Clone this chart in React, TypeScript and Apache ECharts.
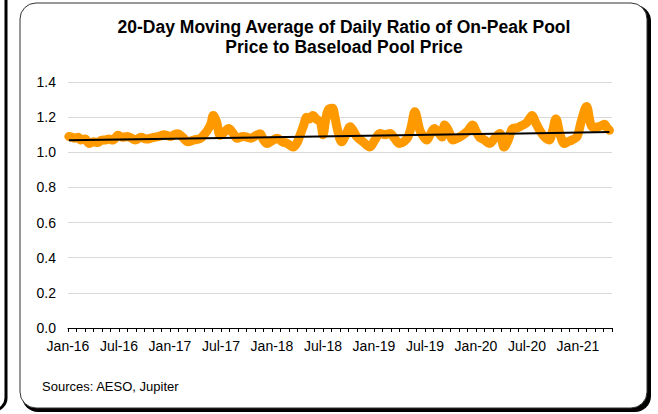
import React, { useEffect, useRef } from "react";
import * as echarts from "echarts";

// Months since Jan-2016 (fractional) and the 20-day moving average ratio
const monthOffsets = [
  0.1, 0.5, 0.8, 1.2, 1.5, 2.0, 2.5, 3.0, 3.5, 3.9, 4.4, 4.8, 5.3, 5.9, 6.4, 7.0,
  7.5, 7.9, 8.6, 9.2, 10.1, 10.7, 11.3, 11.7, 12.1, 12.5, 12.9, 13.5, 14.1, 14.8,
  15.6, 16.0, 16.4, 16.8, 17.1, 17.5, 17.9, 18.4, 18.9, 19.4, 19.9, 20.6, 21.5,
  22.1, 22.6, 23.0, 23.4, 24.0, 24.6, 25.2, 25.8, 26.5, 26.9, 27.3, 27.7, 28.1,
  28.4, 28.8, 29.2, 29.7, 30.0, 30.3, 30.6, 31.1, 31.4, 31.7, 32.2, 32.7, 33.2,
  33.6, 34.0, 34.7, 35.5, 36.1, 36.7, 37.3, 37.9, 38.4, 39.0, 39.5, 40.0, 40.4,
  40.8, 41.4, 41.8, 42.2, 42.6, 43.1, 43.6, 44.0, 44.3, 44.8, 45.3, 45.8, 46.4,
  47.0, 47.6, 48.0, 48.4, 49.0, 49.6, 50.2, 50.8, 51.3, 51.8, 52.3, 52.9, 53.5,
  54.0, 54.6, 55.0, 55.5, 56.0, 56.6, 57.0, 57.4, 57.9, 58.4, 58.8, 59.3, 59.9,
  60.4, 61.0, 61.5, 61.9, 62.3, 62.7, 63.1, 63.4, 63.7,
];
const ratioValues = [
  1.09, 1.085, 1.08, 1.085, 1.07, 1.075, 1.05, 1.06, 1.055, 1.068, 1.07, 1.075,
  1.07, 1.097, 1.085, 1.09, 1.08, 1.07, 1.085, 1.075, 1.085, 1.09, 1.1, 1.095,
  1.09, 1.1, 1.105, 1.085, 1.06, 1.07, 1.08, 1.1, 1.125, 1.16, 1.21, 1.17, 1.097,
  1.115, 1.135, 1.11, 1.08, 1.09, 1.08, 1.095, 1.105, 1.07, 1.05, 1.065, 1.08,
  1.06, 1.05, 1.03, 1.05, 1.097, 1.15, 1.2, 1.19, 1.21, 1.19, 1.17, 1.1, 1.18,
  1.24, 1.25, 1.2, 1.13, 1.06, 1.1, 1.145, 1.12, 1.087, 1.06, 1.03, 1.07, 1.107,
  1.1, 1.107, 1.08, 1.05, 1.06, 1.087, 1.15, 1.23, 1.125, 1.09, 1.07, 1.1, 1.135,
  1.11, 1.087, 1.155, 1.12, 1.07, 1.08, 1.097, 1.12, 1.155, 1.12, 1.087, 1.07,
  1.05, 1.08, 1.107, 1.03, 1.07, 1.135, 1.14, 1.155, 1.17, 1.21, 1.17, 1.125,
  1.09, 1.07, 1.12, 1.19, 1.1, 1.05, 1.06, 1.07, 1.09, 1.18, 1.26, 1.16, 1.14,
  1.145, 1.15, 1.16, 1.14, 1.125,
];
// Linear trend line endpoints
const trendMonths = [0.1, 63.7];
const trendValues = [1.068, 1.115];

const monthNames = ["Jan", "Feb", "Mar", "Apr", "May", "Jun", "Jul", "Aug", "Sep", "Oct", "Nov", "Dec"];
const titleText = "20-Day Moving Average of Daily Ratio of On-Peak Pool\nPrice to Baseload Pool Price";
const sourceText = "Sources: AESO, Jupiter";

export default function App() {
  const ref = useRef<HTMLDivElement>(null);
  useEffect(() => {
    if (!ref.current) return;
    const chart = echarts.init(ref.current, null, { renderer: "svg" });
    const font = "'Liberation Sans', Arial, sans-serif";
    chart.setOption({
      animation: false,
      backgroundColor: "#ffffff",
      textStyle: { fontFamily: font },
      title: {
        text: titleText,
        left: 339,
        textAlign: "center",
        top: 12,
        textStyle: { fontFamily: font, fontSize: 17.5, fontWeight: "bold", color: "#000", lineHeight: 20 },
      },
      graphic: [
        { type: "rect", z: -10, shape: { x: -40, y: -30, width: 46, height: 440, r: 12 }, style: { fill: "none", stroke: "#000", lineWidth: 3 } },
        { type: "rect", z: -10, shape: { x: 22, y: 5, width: 629, height: 407, r: 16 }, style: { fill: "#000" } },
        { type: "rect", z: -9, shape: { x: 20, y: 3, width: 627, height: 405, r: 16 }, style: { fill: "#fff", stroke: "#333", lineWidth: 1 } },
        { type: "text", z: 10, left: 42, top: 380, style: { text: sourceText, fontSize: 13, fontFamily: font, fill: "#000" } },
      ],
      grid: { left: 68, right: 46, top: 82, bottom: 86 },
      xAxis: {
        type: "value",
        min: 0,
        max: 64,
        interval: 1,
        axisLine: { lineStyle: { color: "#000", width: 1 } },
        axisTick: { show: true, length: 4, lineStyle: { color: "#000" } },
        splitLine: { show: false },
        axisLabel: {
          fontSize: 14,
          color: "#000",
          margin: 11,
          fontFamily: font,
          formatter: (v: number) => {
            const m = Math.round(v);
            if (m % 6 !== 0) return "";
            const yr = 16 + Math.floor(m / 12);
            return monthNames[m % 12] + "-" + yr;
          },
        },
      },
      yAxis: {
        type: "value",
        min: 0,
        max: 1.4,
        interval: 0.2,
        axisLine: { show: false },
        axisTick: { show: false },
        splitLine: { lineStyle: { color: "#d9d9d9", width: 1 } },
        axisLabel: { fontSize: 14, color: "#000", margin: 12, fontFamily: font, formatter: (v: number) => v.toFixed(1) },
      },
      series: [
        {
          type: "line",
          data: monthOffsets.map((m, i) => [m, ratioValues[i]]),
          showSymbol: false,
          smooth: 0.35,
          lineStyle: { color: "#ff9900", width: 9, cap: "round", join: "round" },
          z: 2,
        },
        {
          type: "line",
          data: trendMonths.map((m, i) => [m, trendValues[i]]),
          showSymbol: false,
          lineStyle: { color: "#000", width: 2 },
          z: 3,
        },
      ],
    });
    return () => chart.dispose();
  }, []);
  return <div ref={ref} style={{ position: "fixed", left: 0, top: 0, width: 658, height: 414 }} />;
}
